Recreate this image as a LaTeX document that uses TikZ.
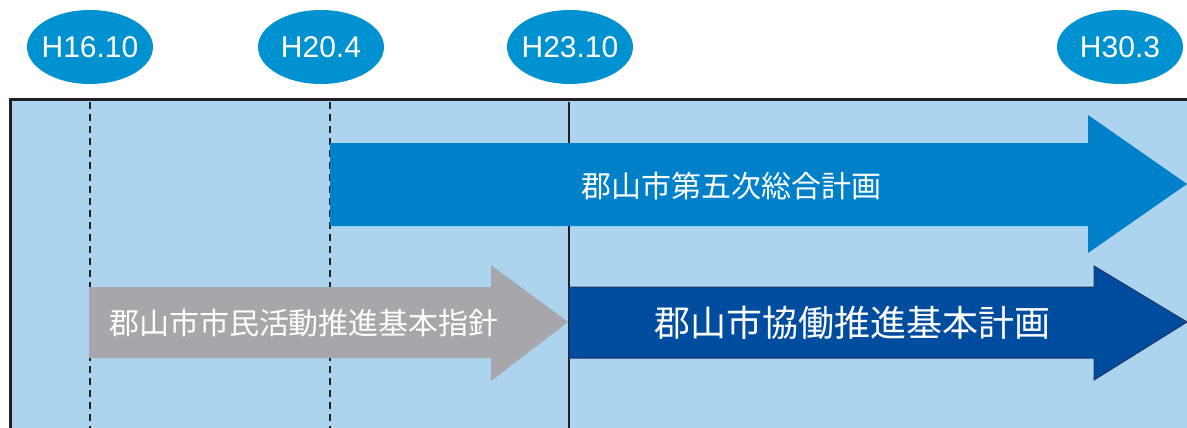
\documentclass[tikz,border=0pt]{standalone}
\usepackage{fontspec}
\setmainfont{Liberation Sans}
\newfontfamily\jpfont{Noto Sans CJK JP}
\usetikzlibrary{shapes.geometric}
\definecolor{panel}{HTML}{ACD4EF}
\definecolor{ellblue}{HTML}{0091D0}
\definecolor{planblue}{HTML}{0080C8}
\definecolor{grayarrow}{HTML}{A6A6AB}
\definecolor{darkblue}{HTML}{004DA0}
\definecolor{darkedge}{HTML}{1C3668}
\definecolor{borderc}{HTML}{231F20}
\newcommand{\zw}[1]{\makebox[0pt]{#1}}
\tikzset{
  datebubble/.style={ellipse, fill=ellblue, minimum width=126pt, minimum height=74pt, inner sep=0pt,
    text=white, font=\fontsize{30}{32}\selectfont},
  guide/.style={line width=1.5pt, borderc, dash pattern=on 7pt off 5pt},
  divider/.style={line width=1.5pt, borderc},
  arrowtext/.style={text=white, inner sep=0pt},
}
\begin{document}
\begin{tikzpicture}[x=1pt,y=-1pt]
\useasboundingbox (0,0) rectangle (1187,428);
% panel
\fill[panel] (10,100) rectangle (1187,428);
\draw[line width=3pt, borderc] (10,428) -- (10,100) -- (1187,100);
% guides
\coordinate (g1t) at (90,102); \coordinate (g1b) at (90,428);
\coordinate (g2t) at (330,102); \coordinate (g2b) at (330,428);
\coordinate (g3t) at (569,102); \coordinate (g3b) at (569,428);
\draw[guide] (g1t) -- (g1b);
\draw[guide] (g2t) -- (g2b);
\draw[divider] (g3t) -- (g3b);
% date bubbles
\node[datebubble] (d1) at (90,47) {\zw{H16.10}};
\node[datebubble] (d2) at (321,47) {\zw{H20.4}};
\node[datebubble] (d3) at (570,47) {\zw{H23.10}};
\node[datebubble] (d4) at (1120,47) {\zw{H30.3}};
% top arrow
\fill[planblue] (330,143) -- (1088,143) -- (1088,115) -- (1187,184) -- (1088,253) -- (1088,226) -- (330,226) -- cycle;
\node[arrowtext, font=\jpfont\fontsize{30}{32}\selectfont] (plan5) at (731,186) {郡山市第五次総合計画};
% gray arrow
\fill[grayarrow] (89,287) -- (491,287) -- (491,265) -- (568,322) -- (491,381) -- (491,358) -- (89,358) -- cycle;
\node[arrowtext, font=\jpfont\fontsize{30}{32}\selectfont] (shishin) at (304,323) {郡山市市民活動推進基本指針};
% dark arrow
\draw[fill=darkblue, draw=darkedge, line width=1pt] (569,287) -- (1094,287) -- (1094,266) -- (1187,322) -- (1094,380) -- (1094,358) -- (569,358) -- cycle;
\node[arrowtext, font=\jpfont\fontsize{36}{38}\selectfont] (kyodo) at (852,323) {郡山市協働推進基本計画};
\end{tikzpicture}
\end{document}
